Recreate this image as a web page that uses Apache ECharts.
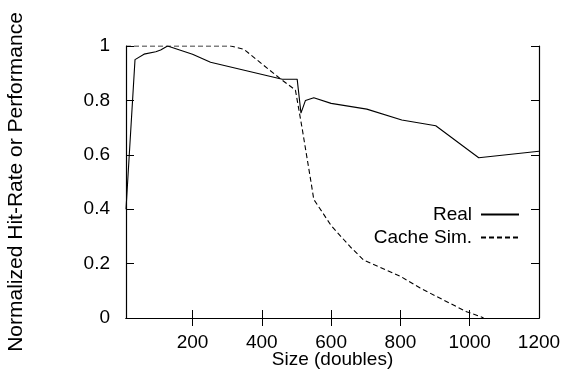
<!DOCTYPE html>
<html>
<head>
<meta charset="utf-8">
<script src="https://cdn.jsdelivr.net/npm/echarts@6/dist/echarts.min.js"></script>
<style>
  html, body { margin: 0; padding: 0; background: #fff; }
  #chart { width: 566px; height: 371px; }
</style>
</head>
<body>
<div id="chart"></div>
<script>
// Normalized hit-rate / performance versus array size
const realSizes = [8, 34, 60, 94, 108, 128, 200, 252, 459, 502, 513, 526, 550, 600, 703, 804, 902, 1026, 1200];
const realValues = [0.40, 0.95, 0.97, 0.979, 0.985, 1.0, 0.97, 0.94, 0.878, 0.878, 0.753, 0.80, 0.81, 0.789, 0.768, 0.728, 0.707, 0.589, 0.613];

const simSizes = [8, 310, 348, 453, 497, 516, 540, 550, 600, 655, 694, 799, 857, 991, 1034, 1040];
const simValues = [1.0, 1.0, 0.988, 0.88, 0.838, 0.70, 0.515, 0.436, 0.34, 0.262, 0.213, 0.154, 0.11, 0.023, 0.004, 0.0];

const xTicks = [200, 400, 600, 800, 1000, 1200];
const yTicks = [0, 0.2, 0.4, 0.6, 0.8, 1];

const seriesNames = ['Real', 'Cache Sim.'];
const xTitle = 'Size (doubles)';
const yTitle = 'Normalized Hit-Rate or Performance';

const FONT = 'Liberation Sans';
const pair = (xs, ys) => xs.map((x, i) => [x, ys[i]]);

const chart = echarts.init(document.getElementById('chart'), null, { renderer: 'canvas' });

const axisLine = { show: true, lineStyle: { color: '#000', width: 1.2 } };
const tickStyle = { color: '#000', width: 1 };

chart.setOption({
  animation: false,
  backgroundColor: '#fff',
  textStyle: { fontFamily: FONT },
  grid: { left: 126, right: 27, top: 46, bottom: 53, containLabel: false, outerBoundsMode: 'none' },
  xAxis: [
    {
      type: 'value', min: 8, max: 1200, position: 'bottom',
      axisLine: axisLine,
      axisTick: { show: true, inside: true, length: 8, customValues: xTicks, lineStyle: tickStyle },
      axisLabel: {
        customValues: xTicks, color: '#000', fontSize: 19, fontFamily: FONT, margin: 15,
        formatter: v => String(v)
      },
      splitLine: { show: false },
      name: xTitle, nameLocation: 'middle', nameGap: 32, nameMoveOverlap: false,
      nameTextStyle: { color: '#000', fontSize: 19, fontFamily: FONT }
    },
    {
      type: 'value', min: 8, max: 1200, position: 'top',
      axisLine: axisLine,
      axisTick: { show: true, inside: true, length: 8, customValues: xTicks.slice(0, 5), lineStyle: tickStyle },
      axisLabel: { show: false },
      splitLine: { show: false }
    }
  ],
  yAxis: [
    {
      type: 'value', min: 0, max: 1, interval: 0.2, position: 'left',
      axisLine: axisLine,
      axisTick: { show: true, inside: true, length: 8, lineStyle: tickStyle },
      axisLabel: {
        color: '#000', fontSize: 19, fontFamily: FONT, margin: 16,
        formatter: v => String(Math.round(v * 10) / 10)
      },
      splitLine: { show: false },
      name: yTitle, nameLocation: 'middle', nameGap: 99, nameRotate: 90, nameMoveOverlap: false,
      nameTextStyle: { color: '#000', fontSize: 21, fontFamily: FONT }
    },
    {
      type: 'value', min: 0, max: 1, interval: 0.2, position: 'right',
      axisLine: axisLine,
      axisTick: { show: true, inside: true, length: 8, lineStyle: tickStyle },
      axisLabel: { show: false },
      splitLine: { show: false }
    }
  ],
  legend: {
    orient: 'vertical',
    right: 41, top: 200,
    align: 'right',
    itemWidth: 38, itemHeight: 14, itemGap: 4,
    itemStyle: { color: 'transparent', borderWidth: 0, opacity: 0 },
    textStyle: { color: '#000', fontSize: 19, fontFamily: FONT, padding: [0, 4, 0, 0] },
    data: seriesNames.map(n => ({ name: n }))
  },
  series: [
    {
      name: seriesNames[0], type: 'line', xAxisIndex: 0, yAxisIndex: 0,
      data: pair(realSizes, realValues),
      symbol: 'none', smooth: false,
      lineStyle: { color: '#000', width: 1.1, type: 'solid' },
      itemStyle: { color: '#000' }
    },
    {
      name: seriesNames[1], type: 'line', xAxisIndex: 0, yAxisIndex: 0,
      data: pair(simSizes, simValues),
      symbol: 'none', smooth: false, clip: true,
      lineStyle: { color: '#000', width: 1.1, type: [5, 3] },
      itemStyle: { color: '#000' }
    }
  ]
});
</script>
</body>
</html>
